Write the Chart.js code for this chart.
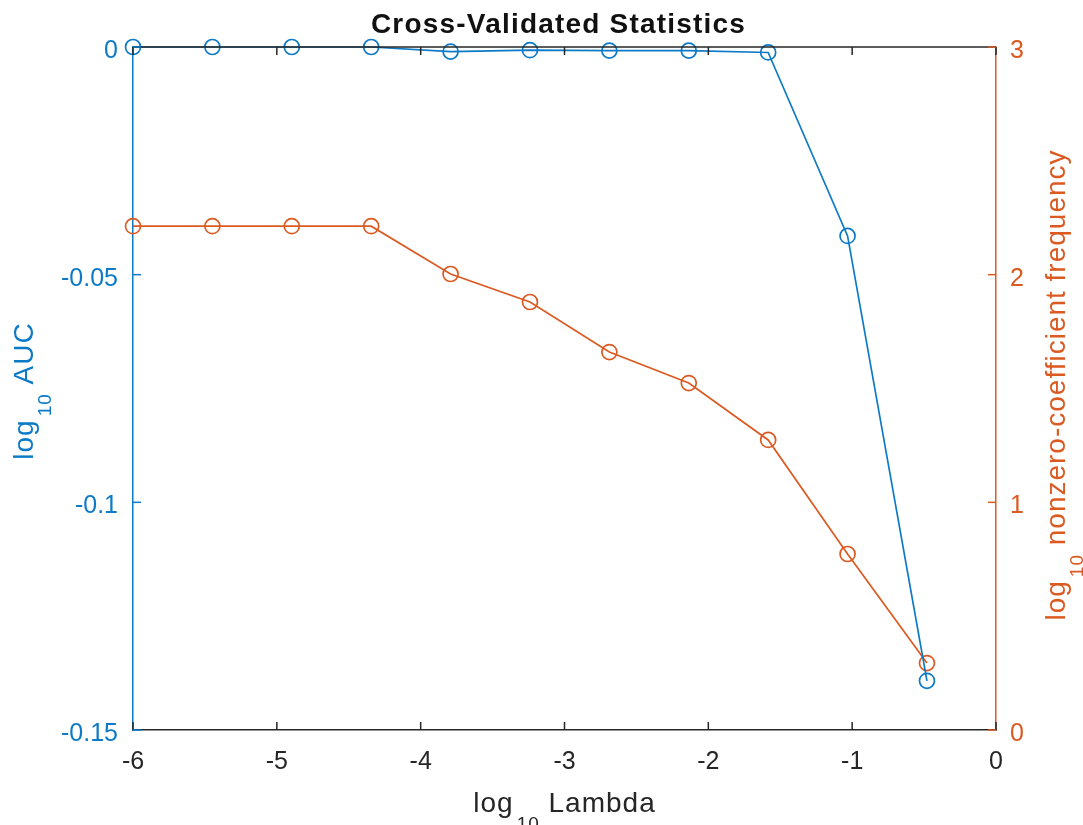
<!DOCTYPE html>
<html>
<head>
<meta charset="utf-8">
<script src="https://cdn.jsdelivr.net/npm/chart.js@4.4.1/dist/chart.umd.min.js"></script>
<style>
  html, body { margin: 0; padding: 0; background: #fff; }
  #wrap { width: 1083px; height: 825px; }
</style>
</head>
<body>
<div id="wrap"><canvas id="cv" width="1083" height="825"></canvas></div>
<script>
// data
const logLambda = [-6, -5.448, -4.896, -4.344, -3.792, -3.24, -2.688, -2.136, -1.584, -1.032, -0.48];
const logAUC = [0, 0, 0, 0, -0.001, -0.0007, -0.0008, -0.0008, -0.0012, -0.0415, -0.1392];
const logNonzero = [2.213, 2.213, 2.213, 2.213, 2.003, 1.880, 1.660, 1.524, 1.274, 0.773, 0.294];

const xTickVals = [-6, -5, -4, -3, -2, -1, 0];
const aucTickVals = [-0.15, -0.1, -0.05, 0];
const freqTickVals = [0, 1, 2, 3];

const titleText = 'Cross-Validated Statistics';
const xTitle = ['log', '10', ' Lambda'];
const yTitle = ['log', '10', ' AUC'];
const y1Title = ['log', '10', ' nonzero-coefficient frequency'];

const INK = '#262626';
const BLUE = '#0c7ac6';
const ORANGE = '#db5a22';
const FONT = '"Liberation Sans", Arial, Helvetica, sans-serif';

// text with a subscript, centred on (x, y) baseline
function drawSub(ctx, parts, x, y, color) {
  const big = 'normal 28px ' + FONT, small = 'normal 19px ' + FONT;
  ctx.save();
  ctx.fillStyle = color;
  ctx.letterSpacing = '1px';
  ctx.textBaseline = 'alphabetic';
  ctx.textAlign = 'left';
  ctx.font = big; const w0 = ctx.measureText(parts[0]).width;
  ctx.font = small; const w1 = ctx.measureText(parts[1]).width;
  ctx.font = big; const w2 = ctx.measureText(parts[2]).width;
  const gap = 3;
  let cx = x - (w0 + gap + w1 + w2) / 2;
  ctx.font = big; ctx.fillText(parts[0], cx, y); cx += w0 + gap;
  ctx.font = small; ctx.fillText(parts[1], cx, y + 18); cx += w1;
  ctx.font = big; ctx.fillText(parts[2], cx, y);
  ctx.restore();
}

const decor = {
  id: 'decor',
  afterDraw(chart) {
    const {ctx, chartArea: a, scales} = chart;
    ctx.save();
    // top box line
    ctx.strokeStyle = INK;
    ctx.lineWidth = 1.5;
    ctx.beginPath();
    ctx.moveTo(a.left, a.top); ctx.lineTo(a.right, a.top);
    ctx.stroke();
    // inward tick marks
    const tl = 8;
    scales.x.ticks.forEach(t => {
      const px = scales.x.getPixelForValue(t.value);
      ctx.beginPath();
      ctx.moveTo(px, a.bottom); ctx.lineTo(px, a.bottom - tl);
      ctx.moveTo(px, a.top); ctx.lineTo(px, a.top + tl);
      ctx.stroke();
    });
    ctx.strokeStyle = BLUE;
    scales.y.ticks.forEach(t => {
      const py = scales.y.getPixelForValue(t.value);
      ctx.beginPath(); ctx.moveTo(a.left, py); ctx.lineTo(a.left + tl, py); ctx.stroke();
    });
    ctx.strokeStyle = ORANGE;
    scales.y1.ticks.forEach(t => {
      const py = scales.y1.getPixelForValue(t.value);
      ctx.beginPath(); ctx.moveTo(a.right, py); ctx.lineTo(a.right - tl, py); ctx.stroke();
    });
    ctx.restore();

    // title
    ctx.save();
    ctx.font = 'bold 28px ' + FONT;
    ctx.letterSpacing = '1.2px';
    ctx.fillStyle = '#111';
    ctx.textAlign = 'center';
    ctx.textBaseline = 'alphabetic';
    ctx.fillText(titleText, (a.left + a.right) / 2 - 6, 33);
    ctx.restore();

    // axis titles
    drawSub(ctx, xTitle, (a.left + a.right) / 2, 812, INK);
    ctx.save();
    ctx.translate(33, 391); ctx.rotate(-Math.PI / 2);
    drawSub(ctx, yTitle, 0, 0, BLUE);
    ctx.restore();
    ctx.save();
    ctx.translate(1065, 385); ctx.rotate(-Math.PI / 2);
    drawSub(ctx, y1Title, 0, 0, ORANGE);
    ctx.restore();
  }
};

const tickFont = {family: FONT, size: 25};

new Chart(document.getElementById('cv'), {
  type: 'line',
  data: {
    datasets: [
      {
        label: 'AUC',
        data: logLambda.map((x, i) => ({x, y: logAUC[i]})),
        yAxisID: 'y',
        borderColor: BLUE,
        borderWidth: 1.7,
        pointStyle: 'circle',
        pointRadius: 7.5,
        pointBorderWidth: 1.7,
        pointBorderColor: BLUE,
        pointBackgroundColor: 'rgba(0,0,0,0)',
        tension: 0,
        clip: false
      },
      {
        label: 'nonzero',
        data: logLambda.map((x, i) => ({x, y: logNonzero[i]})),
        yAxisID: 'y1',
        borderColor: ORANGE,
        borderWidth: 1.7,
        pointStyle: 'circle',
        pointRadius: 7.5,
        pointBorderWidth: 1.7,
        pointBorderColor: ORANGE,
        pointBackgroundColor: 'rgba(0,0,0,0)',
        tension: 0,
        clip: false
      }
    ]
  },
  options: {
    responsive: false,
    animation: false,
    events: [],
    layout: {padding: {top: 47, left: 0, right: 0, bottom: 0}},
    plugins: {legend: {display: false}, title: {display: false}, tooltip: {enabled: false}},
    scales: {
      x: {
        type: 'linear',
        min: -6, max: 0,
        afterBuildTicks: s => { s.ticks = xTickVals.map(v => ({value: v})); },
        afterFit: s => { s.height = 95; },
        grid: {display: false, drawTicks: false},
        border: {display: true, color: INK, width: 1.5},
        ticks: {color: INK, font: tickFont, padding: 17, maxRotation: 0,
                callback: v => String(v)}
      },
      y: {
        type: 'linear',
        position: 'left',
        min: -0.15, max: 0,
        afterBuildTicks: s => { s.ticks = aucTickVals.map(v => ({value: v})); },
        afterFit: s => { s.width = 133; },
        grid: {display: false, drawTicks: false},
        border: {display: true, color: BLUE, width: 1.5},
        ticks: {color: BLUE, font: tickFont, padding: 15, labelOffset: 4,
                callback: v => String(+v.toFixed(2))}
      },
      y1: {
        type: 'linear',
        position: 'right',
        min: 0, max: 3,
        afterBuildTicks: s => { s.ticks = freqTickVals.map(v => ({value: v})); },
        afterFit: s => { s.width = 87; },
        grid: {display: false, drawTicks: false},
        border: {display: true, color: ORANGE, width: 1.5},
        ticks: {color: ORANGE, font: tickFont, padding: 14, labelOffset: 4,
                callback: v => String(v)}
      }
    }
  },
  plugins: [decor]
});
</script>
</body>
</html>
